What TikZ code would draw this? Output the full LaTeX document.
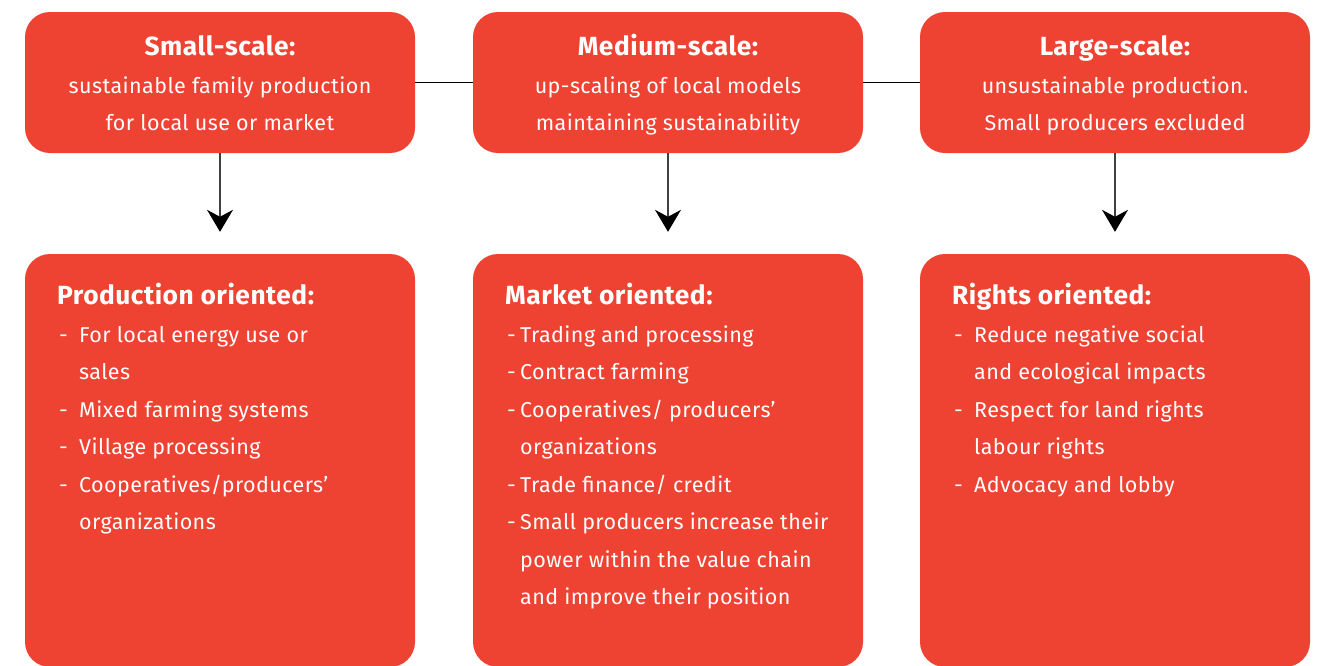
\documentclass[tikz,border=0pt]{standalone}
\usepackage{fontspec}
\setmainfont{Fira Sans}[LetterSpace=2]
\usetikzlibrary{arrows.meta}
\definecolor{boxred}{RGB}{238,66,50}
\tikzset{
  panel/.style={fill=boxred, draw=none, rounded corners=25pt, minimum width=390pt, inner sep=0pt},
  head/.style={text=white, font=\bfseries\fontsize{26.3}{37.5}\selectfont, inner sep=0pt},
  body/.style={text=white, font=\fontsize{21.5}{37.5}\selectfont, inner sep=0pt},
  link/.style={line width=1pt, black},
  flow/.style={line width=1.4pt, black!75, -{Stealth[length=22pt,width=26pt,inset=7pt,black]}}
}
\newcommand{\dashitem}[1]{\makebox[20pt][l]{-}#1}
\newcommand{\contitem}[1]{\hspace*{20pt}#1}
\newcommand{\dashitemnarrow}[1]{\makebox[13pt][l]{-}#1}
\newcommand{\contitemnarrow}[1]{\hspace*{13pt}#1}
\begin{document}
\begin{tikzpicture}[x=1pt,y=-1pt]
  \useasboundingbox (0,0) rectangle (1326,665);
  \clip (0,0) rectangle (1326,665);

  % scale boxes
  \node[panel, minimum height=141pt] (small) at (220,82.5) {};
  \node[panel, minimum height=141pt] (medium) at (668,82.5) {};
  \node[panel, minimum height=141pt] (large) at (1115,82.5) {};

  % orientation boxes (run off the lower edge)
  \node[panel, minimum height=413pt] (prod) at (220,460.5) {};
  \node[panel, minimum height=413pt] (market) at (668,460.5) {};
  \node[panel, minimum height=413pt] (rights) at (1115,460.5) {};

  % connectors
  \draw[link] (small.east) -- (medium.west);
  \draw[link] (medium.east) -- (large.west);
  \draw[flow] (small.south) -- ([yshift=22pt]prod.north);
  \draw[flow] (medium.south) -- ([yshift=22pt]market.north);
  \draw[flow] (large.south) -- ([yshift=22pt]rights.north);

  % scale box texts
  \node[head, anchor=base] (smallh) at (220,55) {Small-scale:};
  \node[body, anchor=base] (smallb1) at (220,93) {sustainable family production};
  \node[body, anchor=base] (smallb2) at (220,130) {for local use or market};

  \node[head, anchor=base] (mediumh) at (668,55) {Medium-scale:};
  \node[body, anchor=base] (mediumb1) at (668,93) {up-scaling of local models};
  \node[body, anchor=base] (mediumb2) at (668,130) {maintaining sustainability};

  \node[head, anchor=base] (largeh) at (1115,55) {Large-scale:};
  \node[body, anchor=base] (largeb1) at (1115,93) {unsustainable production.};
  \node[body, anchor=base] (largeb2) at (1115,130) {Small producers excluded};

  % orientation headings
  \node[head, anchor=base west] (prodh) at (57,304) {Production oriented:};
  \node[head, anchor=base west] (marketh) at (505,304) {Market oriented:};
  \node[head, anchor=base west] (rightsh) at (952,304) {Rights oriented:};

  % orientation lists
  \node[body, anchor=base west] (prodl) at (59,342) {%
    \begin{tabular}[t]{@{}l@{}}
      \dashitem{For local energy use or}\\
      \contitem{sales}\\
      \dashitem{Mixed farming systems}\\
      \dashitem{Village processing}\\
      \dashitem{Cooperatives/producers’}\\
      \contitem{organizations}
    \end{tabular}};

  \node[body, anchor=base west] (marketl) at (507,342) {%
    \begin{tabular}[t]{@{}l@{}}
      \dashitemnarrow{Trading and processing}\\
      \dashitemnarrow{Contract farming}\\
      \dashitemnarrow{Cooperatives/ producers’}\\
      \contitemnarrow{organizations}\\
      \dashitemnarrow{Trade finance/ credit}\\
      \dashitemnarrow{Small producers increase their}\\
      \contitemnarrow{power within the value chain}\\
      \contitemnarrow{and improve their position}
    \end{tabular}};

  \node[body, anchor=base west] (rightsl) at (954,342) {%
    \begin{tabular}[t]{@{}l@{}}
      \dashitem{Reduce negative social}\\
      \contitem{and ecological impacts}\\
      \dashitem{Respect for land rights}\\
      \contitem{labour rights}\\
      \dashitem{Advocacy and lobby}
    \end{tabular}};
\end{tikzpicture}
\end{document}
